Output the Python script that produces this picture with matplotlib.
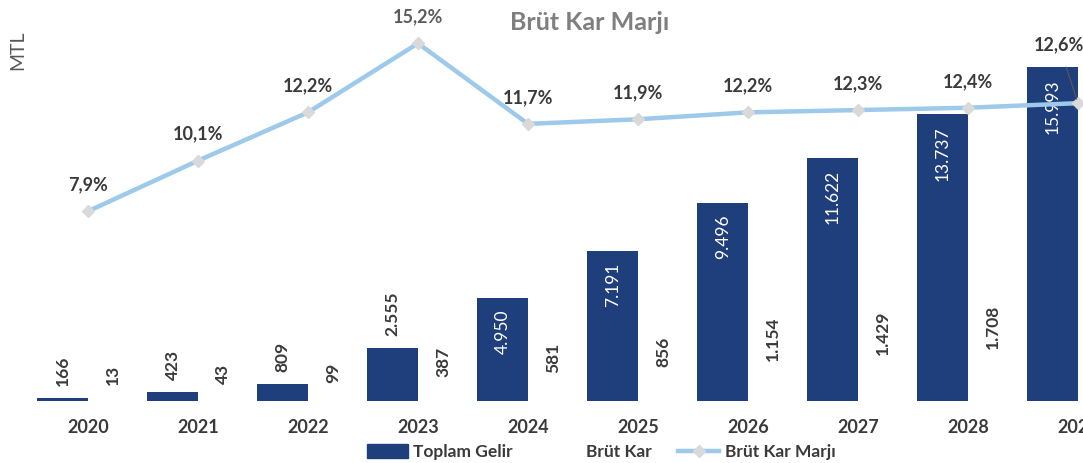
import matplotlib
matplotlib.use("Agg")
import matplotlib.pyplot as plt
import numpy as np
from matplotlib.patches import Patch
from matplotlib.lines import Line2D

years = ["2020", "2021", "2022", "2023", "2024", "2025", "2026", "2027", "2028", "2029"]
toplam_gelir = [166, 423, 809, 2555, 4950, 7191, 9496, 11622, 13737, 15993]
brut_kar = [13, 43, 99, 387, 581, 856, 1154, 1429, 1708, 1993]
brut_kar_marji = [7.9, 10.1, 12.2, 15.2, 11.7, 11.9, 12.2, 12.3, 12.4, 12.6]
gelir_labels = ["166", "423", "809", "2.555", "4.950", "7.191", "9.496", "11.622", "13.737", "15.993"]
kar_labels = ["13", "43", "99", "387", "581", "856", "1.154", "1.429", "1.708", "1.993"]
marj_labels = ["7,9%", "10,1%", "12,2%", "15,2%", "11,7%", "11,9%", "12,2%", "12,3%", "12,4%", "12,6%"]

FONT = ["Lato", "DejaVu Sans"]
plt.rcParams["font.family"] = FONT

W, H = 1083, 463
fig = plt.figure(figsize=(W / 100, H / 100), dpi=100)
ax = fig.add_axes([33 / W, 62 / H, 1100 / W, 391 / H])
ax.set_xlim(-0.5, 9.5)
ax.set_ylim(0, 18726)

BAR = "#1F3E7C"
TXT = "#3A3A3A"
x = np.arange(len(years))
w = 0.46
off = 0.23
ax.bar(x - off, toplam_gelir, width=w, color=BAR, zorder=2)
ax.bar(x + off, brut_kar, width=w, color="white", zorder=1)

for i, v in enumerate(toplam_gelir):
    if i < 4:
        ax.annotate(gelir_labels[i], (x[i] - off, v), xytext=(0, 12), textcoords="offset pixels",
                    rotation=90, ha="center", va="bottom", fontsize=12.5, fontweight="bold", color=TXT)
    else:
        ax.annotate(gelir_labels[i], (x[i] - off, v), xytext=(0, -12), textcoords="offset pixels",
                    rotation=90, ha="center", va="top", fontsize=12.5, color="white")
for i, v in enumerate(brut_kar):
    if i == 9:
        continue
    ax.annotate(kar_labels[i], (x[i] + off, v), xytext=(0, 16), textcoords="offset pixels",
                rotation=90, ha="center", va="bottom", fontsize=12.5, fontweight="bold", color=TXT)

for s in ax.spines.values():
    s.set_visible(False)
ax.set_yticks([])
ax.set_xticks(x)
ax.set_xticklabels(years, fontsize=13, fontweight="bold", color=TXT)
ax.tick_params(axis="x", length=0, pad=13)

ax2 = ax.twinx()
ax2.set_ylim(-0.348, 16.65)
ax2.set_yticks([])
for s in ax2.spines.values():
    s.set_visible(False)
LINE = "#9DC9EB"
ax2.plot(x, brut_kar_marji, color=LINE, lw=3.2, marker="D", markersize=6,
         markerfacecolor="#D9D9D9", markeredgecolor="#D9D9D9", zorder=3)
for i, v in enumerate(brut_kar_marji):
    if i == 9:
        ax2.annotate(marj_labels[i], (x[i], v), xytext=(-19, 58), textcoords="offset pixels",
                     ha="center", va="center", fontsize=13, fontweight="bold", color=TXT,
                     arrowprops=dict(arrowstyle="-", color="#595959", lw=0.8, shrinkA=8, shrinkB=3))
    else:
        col = "#5A5A5A" if i == 3 else TXT
        ax2.annotate(marj_labels[i], (x[i], v), xytext=(0, 18), textcoords="offset pixels",
                     ha="center", va="bottom", fontsize=13, fontweight="bold", color=col)

fig.text(590 / W, 1 - 22 / H, "Brüt Kar Marjı", ha="center", va="center", fontsize=18,
         fontweight="bold", color="#7F7F7F")
fig.text(18 / W, 1 - 50 / H, "MTL", ha="center", va="center", rotation=90, fontsize=14,
         color="#595959")

handles = [Patch(facecolor=BAR, edgecolor=BAR),
           Patch(facecolor="white", edgecolor="white"),
           Line2D([0], [0], color=LINE, lw=3.2, marker="D", markersize=6,
                  markerfacecolor="#D9D9D9", markeredgecolor="#D9D9D9")]
leg = fig.legend(handles, ["Toplam Gelir", "Brüt Kar", "Brüt Kar Marjı"], ncol=3,
                 loc="center", bbox_to_anchor=(601 / W, 11 / H), frameon=False,
                 prop=dict(family=FONT, size=12.5, weight="bold"), handlelength=2.4,
                 handleheight=0.8, handletextpad=0.3, columnspacing=1.5, borderpad=0)
for t in leg.get_texts():
    t.set_color(TXT)

fig.savefig("out.png", dpi=100)
